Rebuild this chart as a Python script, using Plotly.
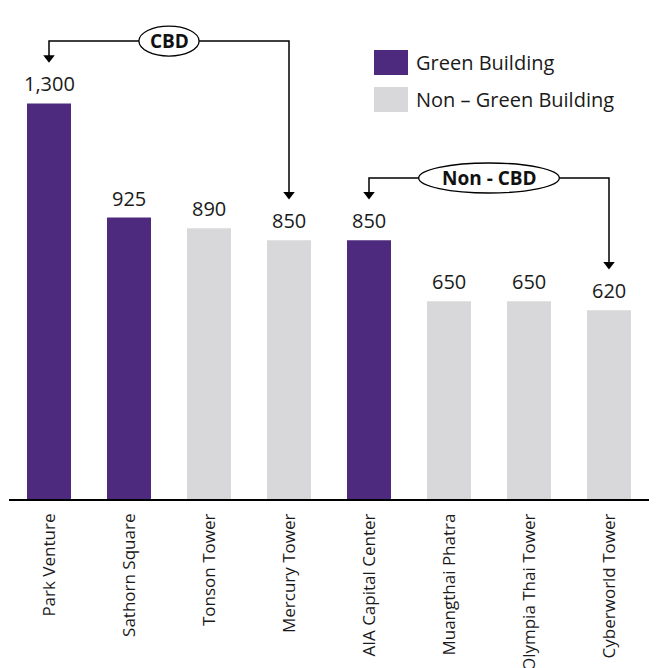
import plotly.graph_objects as go

# ---- data ----
buildings = ["Park Venture", "Sathorn Square", "Tonson Tower", "Mercury Tower",
             "AIA Capital Center", "Muangthai Phatra", "Olympia Thai Tower", "Cyberworld Tower"]
rents = [1300, 925, 890, 850, 850, 650, 650, 620]
is_green = [True, True, False, False, True, False, False, False]
value_labels = ["1,300", "925", "890", "850", "850", "650", "650", "620"]
group_names = ["CBD", "Non - CBD"]
group_first = [0, 4]
group_last = [3, 7]
legend_names = ["Green Building", "Non \u2013 Green Building"]

PURPLE = "#4E2A7E"
GREY = "#D8D8DA"
FONT = "Open Sans"

W, H = 657, 668
ML, MR, MT, MB = 9, 8, 0, 169
YMAX = 1640
plot_w = W - ML - MR
plot_h = H - MT - MB
S = plot_h / YMAX          # pixels per value unit
CAT_PX = plot_w / len(buildings)

def vpx(p):  # pixel length -> value units
    return p / S

def ipx(p):  # pixel length -> category index units
    return p / CAT_PX

fig = go.Figure()
fig.add_trace(go.Bar(
    x=buildings, y=rents,
    marker=dict(color=[PURPLE if g else GREY for g in is_green], line=dict(width=0)),
    width=0.55, showlegend=False, hoverinfo="x+y",
))

# value labels
for b, v, t in zip(buildings, rents, value_labels):
    fig.add_annotation(x=b, y=v, text=t, showarrow=False, yanchor="bottom",
                       yshift=4, font=dict(family=FONT, size=20, color="#1a1a1a"))

# CBD / Non-CBD brackets
shapes = []
for name, i0, i1 in zip(group_names, group_first, group_last):
    level = max(rents[i0:i1 + 1]) + 205
    tip0 = rents[i0] + 134
    tip1 = rents[i1] + 134
    fig.add_trace(go.Scatter(
        x=[buildings[i0], buildings[i0], buildings[i1], buildings[i1]],
        y=[tip0 + vpx(4), level, level, tip1 + vpx(4)],
        mode="lines", line=dict(color="black", width=1.5),
        showlegend=False, hoverinfo="skip", cliponaxis=False))
    fig.add_trace(go.Scatter(
        x=[buildings[i0], buildings[i1]],
        y=[tip0 + vpx(5), tip1 + vpx(5)],
        mode="markers", marker=dict(symbol="triangle-down", size=10, color="black",
                                    line=dict(width=0)),
        showlegend=False, hoverinfo="skip", cliponaxis=False))
    cx = (i0 + i1) / 2
    rx = 10 + 6.7 * len(name)
    ry = 15
    shapes.append(dict(type="circle", xref="x", yref="y",
                       x0=cx - ipx(rx), x1=cx + ipx(rx),
                       y0=level - vpx(ry), y1=level + vpx(ry),
                       fillcolor="white", line=dict(color="black", width=1.3),
                       layer="above"))
    fig.add_annotation(x=cx, y=level, text="<b>%s</b>" % name, showarrow=False,
                       font=dict(family=FONT, size=19, color="#111111"))

# legend (manual)
def px_to_paper_x(p):
    return (p - ML) / plot_w

def px_to_paper_y(p):
    return (H - MB - p) / plot_h

for k, (nm, col) in enumerate(zip(legend_names, [PURPLE, GREY])):
    top = 50 + 37 * k
    shapes.append(dict(type="rect", xref="paper", yref="paper",
                       x0=px_to_paper_x(374), x1=px_to_paper_x(408),
                       y0=px_to_paper_y(top + 25), y1=px_to_paper_y(top),
                       fillcolor=col, line=dict(width=0)))
    fig.add_annotation(xref="paper", yref="paper", x=px_to_paper_x(414),
                       y=px_to_paper_y(top + 12.5), xanchor="left", yanchor="middle",
                       text=nm, showarrow=False,
                       font=dict(family=FONT, size=20, color="#1a1a1a"))

fig.update_layout(
    width=W, height=H, margin=dict(l=ML, r=MR, t=MT, b=MB),
    paper_bgcolor="white", plot_bgcolor="white",
    shapes=shapes, bargap=0.45,
    font=dict(family=FONT),
)
fig.update_xaxes(showline=True, linecolor="black", linewidth=1.5, tickangle=-90,
                 tickfont=dict(family=FONT, size=17, color="#1a1a1a"),
                 ticks="", ticklabelstandoff=6, showgrid=False, zeroline=False,
                 automargin=False, range=[-0.5, len(buildings) - 0.5])
fig.update_yaxes(visible=False, range=[0, YMAX], showgrid=False, zeroline=False,
                 automargin=False)

fig.write_html("out.html", config={"displayModeBar": False},
               post_script="document.body.style.margin='0';document.body.style.overflow='hidden';")
